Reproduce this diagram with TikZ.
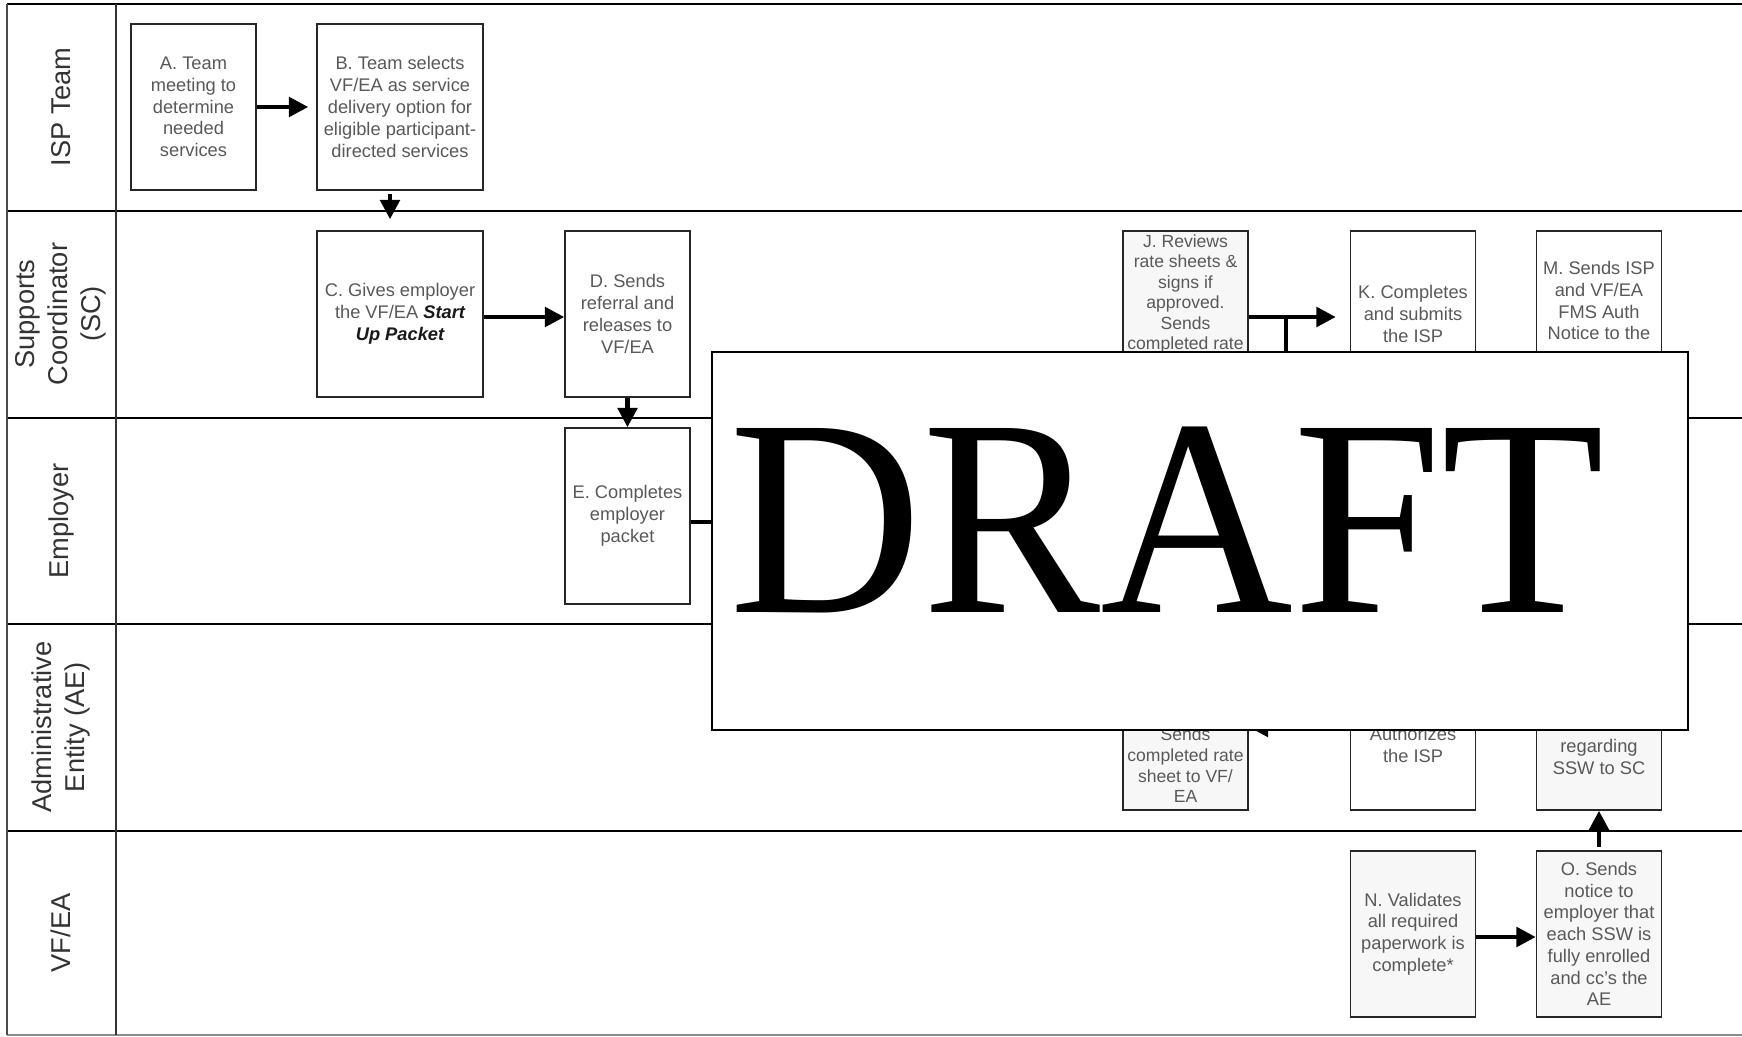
\documentclass[tikz,border=0pt]{standalone}
\usepackage{fontspec}
\setmainfont{Liberation Sans}
\newfontfamily\draftfont{Liberation Serif}
\usetikzlibrary{arrows.meta, calc}

\begin{document}
\begin{tikzpicture}[x=0.02cm, y=-0.02cm,
    task/.style={draw=black!85, line width=0.9pt, fill=white, minimum width=2.5cm,
      minimum height=3.32cm, inner sep=2pt, align=center, text=black!65,
      font=\fontsize{10.4}{12.4}\selectfont},
    wide/.style={minimum width=3.32cm},
    shaded/.style={fill=black!3},
    txt/.style={inner sep=0pt, align=center, text=black!65,
      font=\fontsize{10.4}{12.4}\selectfont},
    small/.style={font=\fontsize{10}{11.7}\selectfont},
    lane/.style={rotate=90, align=center, text=black!80,
      font=\fontsize{15.5}{18.9}\selectfont},
    flow/.style={line width=2.5pt, -{Triangle[length=11pt, width=11pt]}}]

  \useasboundingbox (0,0) rectangle (1742,1037);

  \coordinate (draftNW) at (712,352);
  \coordinate (draftSE) at (1688,730);

  % swimlanes
  \draw[line width=1.6pt] (7,4) -- (1742,4);
  \foreach \y in {211,418,624,831}
    \draw[line width=1.1pt] (7,\y) -- (1742,\y);
  \draw[black!45, line width=0.8pt] (7,1035) -- (1742,1035);
  \draw[black!70, line width=1pt] (7,4) -- (7,1035);
  \draw[black!80, line width=0.8pt] (116,4) -- (116,1035);

  \node[lane] (isp) at (61,107) {ISP Team};
  \node[lane] (sc) at (61,314) {Supports\\Coordinator\\(SC)};
  \node[lane] (emp) at (61,521) {Employer};
  \node[lane] (ae) at (61,727) {Administrative\\Entity (AE)};
  \node[lane] (vfea) at (61,933) {VF/EA};

  % tasks
  \node[task] (A) at (193.5,107) {A. Team\\meeting to\\determine\\needed\\services};
  \node[task, wide] (B) at (400,107) {B. Team selects\\VF/EA as service\\delivery option for\\eligible participant-\\directed services};
  \node[task, wide] (C) at (400,314) {C. Gives employer\\the VF/EA {\color{black!90}\bfseries\itshape Start}\\{\color{black!90}\bfseries\itshape Up Packet}};
  \node[task] (D) at (627.5,314) {D. Sends\\referral and\\releases to\\VF/EA};
  \node[task, minimum height=3.52cm] (E) at (627.5,516) {E. Completes\\employer\\packet};
  \node[task, shaded] (J) at (1185.5,314) {};
  \node[task] (K) at (1413,314) {K. Completes\\and submits\\the ISP};
  \node[task] (M) at (1599,314) {};
  \node[task, shaded] (aeRate) at (1185.5,727) {};
  \node[task] (aeAuth) at (1413,727) {};
  \node[task, shaded] (aeNotice) at (1599,727) {};
  \node[task, shaded] (N) at (1413,934) {N. Validates\\all required\\paperwork is\\complete*};
  \node[task, shaded] (O) at (1599,934) {O. Sends\\notice to\\employer that\\each SSW is\\fully enrolled\\and cc's the\\AE};

  \node[txt, small, anchor=north] (Jtext) at (1185.5,234) {J. Reviews\\rate sheets \&\\signs if\\approved.\\Sends\\completed rate};
  \node[txt, anchor=north] (Mtext) at (1599,261) {M. Sends ISP\\and VF/EA\\FMS Auth\\Notice to the};
  \node[txt, small, anchor=south] (aeRatetext) at (1185.5,803) {Sends\\completed rate\\sheet to VF/\\EA};
  \node[txt, anchor=south] (aeAuthtext) at (1413,763) {Authorizes\\the ISP};
  \node[txt, anchor=south] (aeNoticetext) at (1599,775) {regarding\\SSW to SC};

  % connectors
  \draw[flow, shorten >=0.16cm] (A) -- (B);
  \draw[flow, shorten <=0.06cm, shorten >=0.22cm] ([xshift=-0.2cm]B.south) -- ([xshift=-0.2cm]C.north);
  \draw[flow] ([yshift=-0.06cm]C.east) -- ([yshift=-0.06cm]D.west);
  \draw[flow] (D) -- (E);
  \draw[line width=2.5pt] ([yshift=-0.12cm]E.east) -- ([yshift=-0.12cm]E.east -| draftNW);
  \draw[flow, shorten >=0.28cm] ([yshift=-0.06cm]J.east) -- ([yshift=-0.06cm]K.west);
  \coordinate (jk) at (1286,317);
  \draw[flow] (jk) |- (aeRate.east);
  \draw[flow] ([yshift=-0.06cm]N.east) -- ([yshift=-0.06cm]O.west);
  \draw[flow, shorten <=0.06cm] (O) -- (aeNotice);

  % draft stamp
  \filldraw[fill=white, line width=1.1pt] (draftNW) rectangle (draftSE);
  \node[anchor=base, inner sep=0pt, xscale=0.95, font=\draftfont\fontsize{160}{160}\selectfont] (draft) at (1167,612) {DRAFT};

\end{tikzpicture}
\end{document}
